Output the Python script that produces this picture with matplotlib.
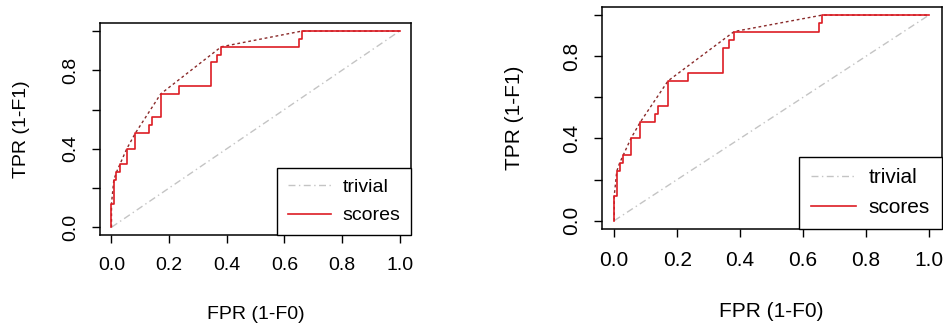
import matplotlib
matplotlib.use("Agg")
import matplotlib.pyplot as plt
from matplotlib.lines import Line2D

plt.rcParams['font.family'] = ['Liberation Sans', 'DejaVu Sans']

# ROC corners (25 positives -> tpr steps of 0.04)
fpr_steps = [0, 0, 0.008, 0.017, 0.029, 0.053, 0.083, 0.13, 0.139, 0.171,
             0.235, 0.347, 0.366, 0.381, 0.651, 0.661, 1.0]
tpr_steps = [0, 0.12, 0.24, 0.28, 0.32, 0.40, 0.48, 0.52, 0.56, 0.68,
             0.72, 0.84, 0.88, 0.92, 0.96, 1.0, 1.0]

# dotted upper hull
hull_fpr = [0, 0, 0.008, 0.017, 0.053, 0.083, 0.171, 0.381, 0.661, 1.0]
hull_tpr = [0, 0.12, 0.24, 0.28, 0.40, 0.48, 0.68, 0.92, 1.0, 1.0]

trivial_x = [0, 1]
trivial_y = [0, 1]

xticks = [0, 0.2, 0.4, 0.6, 0.8, 1.0]
xtick_labels = ['0.0', '0.2', '0.4', '0.6', '0.8', '1.0']
yticks = [0, 0.2, 0.4, 0.6, 0.8, 1.0]
ytick_labels = ['0.0', '', '0.4', '', '0.8', '']

RED = '#dd1c24'
HULL = '#8a2a2a'
GREY = '#c4c4c4'
TRIV_LS = (0, (5, 2.5, 1, 2.5))


def draw_panel(ax, fs, xlab_y, ylab_x):
    ax.plot(trivial_x, trivial_y, color=GREY, lw=1.0, ls=TRIV_LS)
    ax.plot(hull_fpr, hull_tpr, color=HULL, lw=1.0, ls=(0, (2, 2)))
    ax.step(fpr_steps, tpr_steps, where='post', color=RED, lw=1.2)

    ax.set_xlim(-0.04, 1.04)
    ax.set_ylim(-0.04, 1.04)
    ax.set_xticks(xticks)
    ax.set_xticklabels(xtick_labels, fontsize=fs)
    ax.set_yticks(yticks)
    ax.set_yticklabels(ytick_labels, fontsize=fs)
    plt.setp(ax.get_yticklabels(), rotation=90, va='center')
    ax.tick_params(direction='out', length=6, width=1, pad=9, colors='black')
    ax.tick_params(axis='x', pad=10)
    for s in ax.spines.values():
        s.set_linewidth(1.1)

    ax.set_xlabel('FPR (1-F0)', va='center', fontsize=fs)
    ax.set_ylabel('TPR (1-F1)', va='center', fontsize=fs)
    ax.xaxis.set_label_coords(0.5, xlab_y)
    ax.yaxis.set_label_coords(ylab_x, 0.5)

    handles = [Line2D([], [], color=GREY, lw=1.0, ls=TRIV_LS),
               Line2D([], [], color=RED, lw=1.2)]
    leg = ax.legend(handles, ['trivial', 'scores'], loc='lower right',
                    borderaxespad=0, fancybox=False, framealpha=1,
                    edgecolor='black', borderpad=0.55, handlelength=2.2,
                    handletextpad=0.6, labelspacing=0.55, fontsize=fs)
    leg.get_frame().set_linewidth(1.0)


fig = plt.figure(figsize=(9.43, 3.27), dpi=100)
ax1 = fig.add_axes([0.106, 0.281, 0.330, 0.648])
ax2 = fig.add_axes([0.638, 0.300, 0.3605, 0.679])

draw_panel(ax1, 14, -0.377, -0.251)
draw_panel(ax2, 15, -0.374, -0.256)

fig.savefig('out.png', dpi=100)
